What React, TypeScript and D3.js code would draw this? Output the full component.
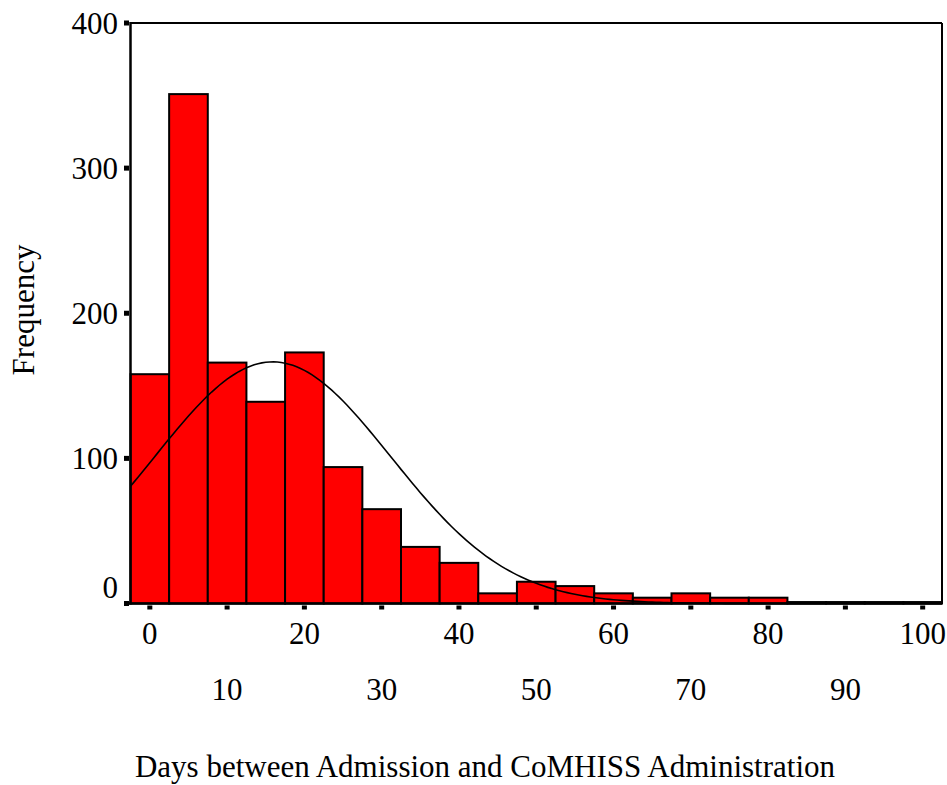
import React from "react";
import * as d3 from "d3";

// Histogram bins (centre, days) and frequencies
const binCenters = [0, 5, 10, 15, 20, 25, 30, 35, 40, 45, 50, 55, 60, 65, 70, 75, 80, 85, 90, 95, 100];
const frequencies = [158, 351, 166, 139, 173, 94, 65, 39, 28, 7, 15, 12, 7, 4, 7, 4, 4, 1, 1, 1, 1];
const binWidth = 5;

// Fitted normal curve parameters
const normalMean = 15.9;
const normalSD = 15.3;

const yTicks = [0, 100, 200, 300, 400];
const xTicksRow1 = [0, 20, 40, 60, 80, 100];
const xTicksRow2 = [10, 30, 50, 70, 90];

const W = 947;
const H = 785;
const FONT = "'Liberation Serif', 'Times New Roman', serif";

export default function App() {
  const x = d3.scaleLinear().domain([-2.5, 102.5]).range([130.5, 942]);
  const y = d3.scaleLinear().domain([0, 400]).range([603.5, 23]);

  const total = d3.sum(frequencies);
  const curvePts: [number, number][] = d3.range(-2.5, 102.51, 0.5).map((d) => [
    d,
    (total * binWidth) / (normalSD * Math.sqrt(2 * Math.PI)) *
      Math.exp(-((d - normalMean) ** 2) / (2 * normalSD * normalSD)),
  ]);
  const line = d3
    .line<[number, number]>()
    .x((d) => x(d[0]))
    .y((d) => y(d[1]));

  const allXTicks = d3.range(0, 101, 10);

  return (
    <svg
      width={W}
      height={H}
      style={{ position: "absolute", left: 0, top: 0, background: "#fff" }}
      fontFamily={FONT}
    >
      <rect x={0} y={0} width={W} height={H} fill="#fff" />
      {/* bars */}
      {binCenters.map((c, i) => (
        <rect
          key={c}
          x={x(c - binWidth / 2)}
          y={y(frequencies[i])}
          width={x(c + binWidth / 2) - x(c - binWidth / 2)}
          height={y(0) - y(frequencies[i])}
          fill="#ff0000"
          stroke="#000"
          strokeWidth={2}
        />
      ))}
      {/* normal curve */}
      <path d={line(curvePts) || ""} fill="none" stroke="#000" strokeWidth={1.6} />
      {/* frame */}
      <line x1={x.range()[0]} x2={x.range()[1]} y1={y(400)} y2={y(400)} stroke="#000" strokeWidth={2} />
      <line x1={x.range()[1]} x2={x.range()[1]} y1={y(400)} y2={y(0)} stroke="#000" strokeWidth={2} />
      {/* axes */}
      <line x1={x.range()[0]} x2={x.range()[0]} y1={y(400) - 1} y2={y(0) + 1} stroke="#000" strokeWidth={2.5} />
      <line x1={x.range()[0] - 3} x2={x.range()[1]} y1={y(0)} y2={y(0)} stroke="#000" strokeWidth={2.5} />
      {/* y ticks */}
      {yTicks.map((t) => (
        <g key={t}>
          <rect x={x.range()[0] - 6.5} y={y(t) - 2.5} width={5} height={5} fill="#000" />
          <text
            x={118}
            y={t === 0 ? y(t) - 16 : y(t)}
            textAnchor="end"
            dominantBaseline="central"
            fontSize={31}
            fill="#000"
          >
            {t}
          </text>
        </g>
      ))}
      {/* x ticks */}
      {allXTicks.map((t) => (
        <rect key={t} x={x(t) - 2.5} y={y(0) + 2} width={5} height={4} fill="#000" />
      ))}
      {xTicksRow1.map((t) => (
        <text key={t} x={x(t)} y={644} textAnchor="middle" fontSize={31} fill="#000">
          {t}
        </text>
      ))}
      {xTicksRow2.map((t) => (
        <text key={t} x={x(t)} y={700} textAnchor="middle" fontSize={31} fill="#000">
          {t}
        </text>
      ))}
      {/* axis titles */}
      <text x={485} y={777} textAnchor="middle" fontSize={31} fill="#000">
        Days between Admission and CoMHISS Administration
      </text>
      <text
        transform="translate(34,310) rotate(-90)"
        textAnchor="middle"
        fontSize={31}
        fill="#000"
      >
        Frequency
      </text>
    </svg>
  );
}
